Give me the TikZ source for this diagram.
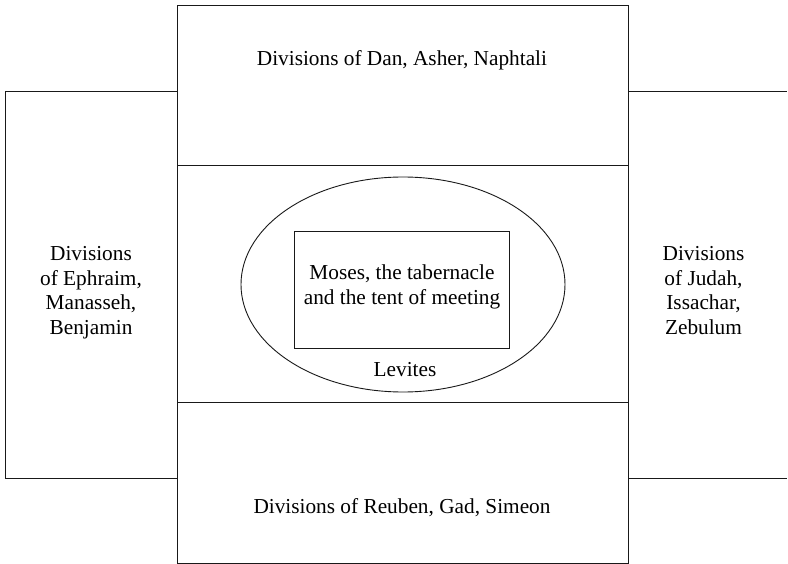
\documentclass[tikz,border=0pt]{standalone}
\usepackage{fontspec}
\setmainfont{Liberation Serif}
\usetikzlibrary{shapes.geometric}
\begin{document}
\begin{tikzpicture}[x=1pt,y=-1pt,
  ln/.style={draw=black!90,line width=0.9pt},
  lbl/.style={font=\fontsize{21.3}{25}\selectfont,align=center,inner sep=0pt,anchor=base}]
\useasboundingbox (0,0) rectangle (788,564);
% central column
\draw[ln] (177,5) rectangle (628,563);
\draw[ln] (177,165) -- (628,165);
\draw[ln] (177,402) -- (628,402);
% left wing
\draw[ln] (177,91) -- (5,91) -- (5,478) -- (177,478);
% right wing
\draw[ln] (628,91) -- (787,91);
\draw[ln] (628,478) -- (787,478);
% levites ellipse and tabernacle
\node[ln,ellipse,minimum width=324,minimum height=215,inner sep=0pt] (lev) at (403,284.5) {};
\node[ln,rectangle,minimum width=215,minimum height=117,inner sep=0pt] (tab) at (402,289.5) {};
% texts
\node[lbl] (ttop) at (402,66) {Divisions of Dan, Asher, Naphtali};
\node[lbl] (tbot) at (402,513) {Divisions of Reuben, Gad, Simeon};
\node[lbl] (tleft) at (91,335) {Divisions\\of Ephraim,\\Manasseh,\\Benjamin};
\node[lbl] (tright) at (703.5,335) {Divisions\\of Judah,\\Issachar,\\Zebulum};
\node[lbl] (tmoses) at (402,305) {Moses, the tabernacle\\and the tent of meeting};
\node[lbl] (tlev) at (405,376.5) {Levites};
\end{tikzpicture}
\end{document}
